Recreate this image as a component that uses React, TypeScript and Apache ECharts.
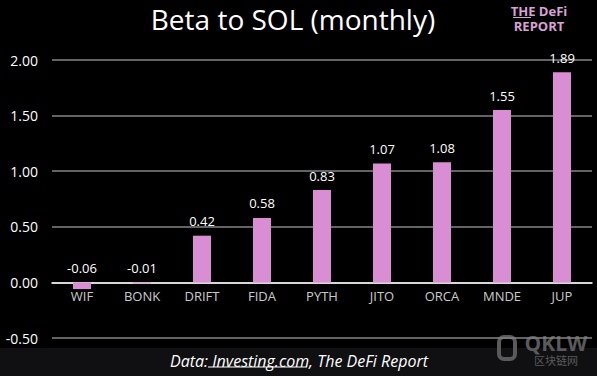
import React, { useEffect, useRef } from "react";
import * as echarts from "echarts";

const categories = ["WIF", "BONK", "DRIFT", "FIDA", "PYTH", "JITO", "ORCA", "MNDE", "JUP"];
const betaValues = [-0.06, -0.01, 0.42, 0.58, 0.83, 1.07, 1.08, 1.55, 1.89];
const yTicks = { min: -0.5, max: 2, interval: 0.5 };

export default function App() {
  const ref = useRef<HTMLDivElement>(null);
  useEffect(() => {
    const chart = echarts.init(ref.current!, null, { renderer: "svg" });
    const font = "Open Sans";
    chart.setOption({
      animation: false,
      backgroundColor: "#000000",
      title: {
        text: "Beta to SOL (monthly)",
        left: 288,
        textAlign: "center",
        top: 0,
        textStyle: { color: "#ffffff", fontSize: 28, fontWeight: "normal", fontFamily: font },
      },
      grid: { left: 52, right: 5, top: 60, bottom: 38 },
      xAxis: {
        type: "category",
        data: categories,
        axisLine: { show: true, onZero: true, lineStyle: { color: "#ffffff", width: 1.5 } },
        axisTick: { show: false },
        axisLabel: { show: false },
      },
      yAxis: {
        type: "value",
        min: yTicks.min,
        max: yTicks.max,
        interval: yTicks.interval,
        axisLine: { show: false },
        axisTick: { show: false },
        splitLine: { lineStyle: { color: "#858585", width: 1.5 } },
        axisLabel: {
          color: "#ffffff",
          fontSize: 14,
          fontFamily: font,
          margin: 14,
          formatter: (v: number) => v.toFixed(2),
        },
      },
      series: [
        {
          type: "bar",
          data: betaValues,
          barWidth: 18,
          itemStyle: { color: "#D98DD2" },
          label: {
            show: true,
            position: "top",
            distance: 8,
            color: "#ffffff",
            fontSize: 13,
            fontFamily: font,
            formatter: (p: any) => p.value.toFixed(2),
          },
        },
        {
          type: "scatter",
          data: categories.map(() => 0),
          symbolSize: 1,
          itemStyle: { color: "rgba(0,0,0,0)" },
          silent: true,
          z: 5,
          label: {
            show: true,
            position: "bottom",
            distance: 7,
            color: "#ffffff",
            fontSize: 13,
            fontFamily: font,
            formatter: (p: any) => categories[p.dataIndex],
          },
        },
      ],
      graphic: [
        { type: "rect", shape: { x: 0, y: 348, width: 597, height: 28 }, style: { fill: "#101013" }, z: -1 },
        {
          type: "text",
          x: 299,
          y: 361,
          style: {
            text: "Data: Investing.com, The DeFi Report",
            fill: "#ffffff",
            fontSize: 16,
            fontStyle: "italic",
            fontFamily: font,
            align: "center",
            verticalAlign: "middle",
          },
        },
        { type: "line", shape: { x1: 208, y1: 367, x2: 307, y2: 367 }, style: { stroke: "#ffffff", lineWidth: 1 } },
        {
          type: "text",
          x: 539,
          y: 3,
          style: {
            text: "THE DeFi\nREPORT",
            fill: "#d9a2d6",
            fontSize: 13,
            lineHeight: 15,
            fontWeight: "bold",
            fontFamily: font,
            align: "center",
          },
        },
        { type: "line", shape: { x1: 513, y1: 17.5, x2: 531, y2: 17.5 }, style: { stroke: "#d9a2d6", lineWidth: 1 } },
        {
          type: "text",
          x: 556,
          y: 332,
          style: {
            text: "{a|QKLW}\n{b|区块链网}",
            align: "center",
            rich: {
              a: { fill: "#5a5a5a", fontSize: 21, lineHeight: 22, fontWeight: "bold", fontFamily: font },
              b: { fill: "#5a5a5a", fontSize: 11, lineHeight: 12, fontFamily: "Noto Sans CJK SC" },
            },
          },
        },
        {
          type: "rect",
          shape: { x: 499, y: 337, width: 16, height: 22, r: 5 },
          style: { fill: "none", stroke: "#5a5a5a", lineWidth: 4 },
        },
      ],
    });
    return () => chart.dispose();
  }, []);
  return <div ref={ref} style={{ width: 597, height: 376, position: "fixed", left: 0, top: 0 }} />;
}
